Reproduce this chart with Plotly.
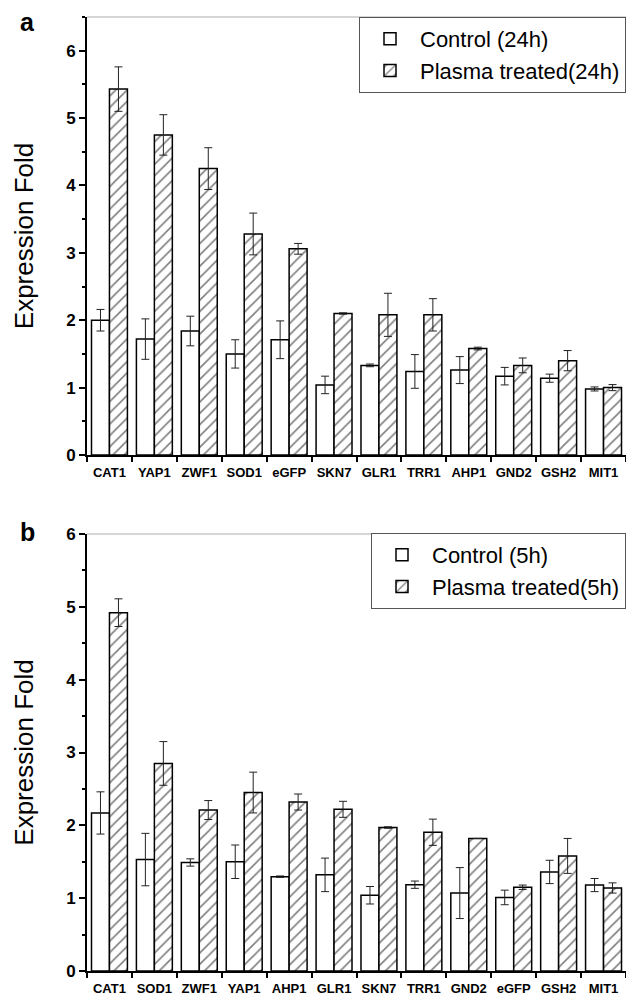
import plotly.graph_objects as go

# ---- Panel a (24h) ----
genes_a = ["CAT1", "YAP1", "ZWF1", "SOD1", "eGFP", "SKN7", "GLR1", "TRR1", "AHP1", "GND2", "GSH2", "MIT1"]
ctrl_a = [2.00, 1.72, 1.84, 1.50, 1.71, 1.04, 1.33, 1.24, 1.26, 1.17, 1.14, 0.98]
ctrl_a_err = [0.16, 0.30, 0.22, 0.21, 0.28, 0.13, 0.02, 0.25, 0.20, 0.13, 0.06, 0.03]
plas_a = [5.43, 4.75, 4.25, 3.28, 3.06, 2.10, 2.08, 2.08, 1.58, 1.33, 1.40, 1.00]
plas_a_err = [0.33, 0.30, 0.31, 0.31, 0.08, 0.01, 0.32, 0.24, 0.02, 0.11, 0.15, 0.045]

# ---- Panel b (5h) ----
genes_b = ["CAT1", "SOD1", "ZWF1", "YAP1", "AHP1", "GLR1", "SKN7", "TRR1", "GND2", "eGFP", "GSH2", "MIT1"]
ctrl_b = [2.17, 1.53, 1.49, 1.50, 1.295, 1.32, 1.04, 1.185, 1.07, 1.01, 1.36, 1.18]
ctrl_b_err = [0.29, 0.36, 0.05, 0.23, 0.01, 0.23, 0.12, 0.05, 0.35, 0.10, 0.16, 0.09]
plas_b = [4.92, 2.85, 2.21, 2.45, 2.32, 2.22, 1.97, 1.905, 1.82, 1.15, 1.58, 1.14]
plas_b_err = [0.19, 0.30, 0.13, 0.28, 0.11, 0.11, 0.01, 0.18, 0.0, 0.03, 0.24, 0.07]

names_a = ["Control (24h)", "Plasma treated(24h)"]
names_b = ["Control (5h)", "Plasma treated(5h)"]

FONT = "Liberation Sans, Arial, Helvetica, sans-serif"
W, H = 626, 998
ML, MR, MT, MB = 87, 0, 17, 27
ph = H - MT - MB

def py(pix):
    return (H - MB - pix) / ph

err_style = dict(type="data", color="#222", thickness=1, width=4)
line_style = dict(color="black", width=1.5)
pattern = dict(shape="/", fgcolor="black", bgcolor="white", size=8, solidity=0.2, fillmode="overlay")

fig = go.Figure()
for genes, c, ce, p, pe, names, xa, ya, lg in [
    (genes_a, ctrl_a, ctrl_a_err, plas_a, plas_a_err, names_a, "x", "y", "legend"),
    (genes_b, ctrl_b, ctrl_b_err, plas_b, plas_b_err, names_b, "x2", "y2", "legend2"),
]:
    fig.add_trace(go.Bar(
        x=genes, y=c, name=names[0], xaxis=xa, yaxis=ya, legend=lg,
        marker=dict(color="white", line=line_style),
        error_y=dict(array=ce, **err_style),
    ))
    fig.add_trace(go.Bar(
        x=genes, y=p, name=names[1], xaxis=xa, yaxis=ya, legend=lg,
        marker=dict(color="white", line=line_style, pattern=pattern),
        error_y=dict(array=pe, **err_style),
    ))

top_dom = [py(455), 1.0]
bot_dom = [0.0, py(534)]

xcommon = dict(
    type="category", range=[-0.5, 11.5], showline=True, linecolor="black", linewidth=2,
    ticks="outside", tickson="boundaries", ticklen=5, tickwidth=1.5, tickcolor="black",
    tickangle=0, ticklabelstandoff=4,
    tickfont=dict(family=FONT, size=13, color="black", weight="bold"),
    showgrid=False, zeroline=False,
)
ycommon = dict(
    showline=True, linecolor="black", linewidth=2, dtick=1, tick0=0,
    ticks="outside", ticklen=6, tickwidth=1.5, tickcolor="black",
    minor=dict(dtick=0.5, ticks="outside", ticklen=3, tickwidth=1.5, tickcolor="black"),
    tickfont=dict(family=FONT, size=17, color="black", weight="bold"),
    showgrid=False, zeroline=False,
    title=dict(text="Expression Fold", font=dict(family=FONT, size=26, color="black"), standoff=25),
)

legcommon = dict(
    x=1, xanchor="right", yanchor="top", bgcolor="white",
    bordercolor="#555", borderwidth=1, font=dict(family=FONT, size=22, color="black"),
    itemwidth=50, tracegroupgap=0,
)

fig.update_layout(
    width=W, height=H, margin=dict(l=ML, r=MR, t=MT, b=MB),
    paper_bgcolor="white", plot_bgcolor="white",
    barmode="group", bargap=0.2, bargroupgap=0,
    font=dict(family=FONT, color="black"),
    xaxis=dict(domain=[0, 1], anchor="y", **xcommon),
    yaxis=dict(domain=top_dom, anchor="x", range=[0, 6.5], **ycommon),
    xaxis2=dict(domain=[0, 1], anchor="y2", **xcommon),
    yaxis2=dict(domain=bot_dom, anchor="x2", range=[0, 6], **ycommon),
    legend=dict(y=1.0, **legcommon),
    legend2=dict(y=py(533), **legcommon),
    showlegend=True,
)

# light grey top frame lines
fig.add_shape(type="line", xref="x domain", yref="y domain", x0=0, x1=1, y0=1, y1=1,
              line=dict(color="#c8c8c8", width=1.5), layer="below")
fig.add_shape(type="line", xref="x2 domain", yref="y2 domain", x0=0, x1=1, y0=1, y1=1,
              line=dict(color="#c8c8c8", width=1.5), layer="below")

# panel letters
for letter, ypix in [("a", 22), ("b", 532)]:
    fig.add_annotation(text=letter, xref="paper", yref="paper",
                       x=(28 - ML) / (W - ML - MR), y=py(ypix), xanchor="center", yanchor="middle",
                       showarrow=False, font=dict(family=FONT, size=25, color="black", weight="bold"))

fig.write_html(
    "out.html",
    config={"displayModeBar": False},
    post_script="document.body.style.margin='0';document.body.style.overflow='hidden';"
                "document.documentElement.style.overflow='hidden';",
)
